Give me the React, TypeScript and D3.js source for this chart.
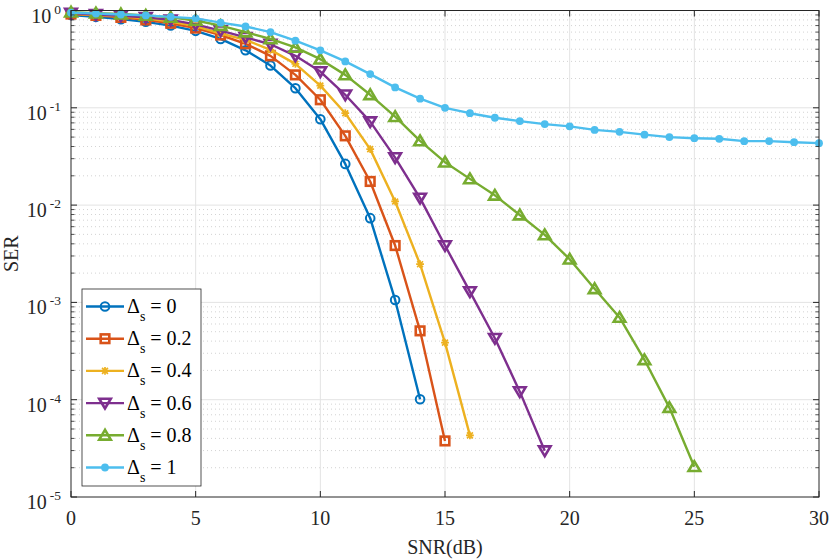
import * as d3 from "d3";
import React, { useEffect, useRef } from "react";

// SNR points, dB
const snr = d3.range(0, 31);

const ser0 = [0.9, 0.86, 0.815, 0.765, 0.7, 0.618, 0.51, 0.39, 0.272, 0.159, 0.0764, 0.0265, 0.00734, 0.00106, 1.01e-4];
const ser02 = [0.92, 0.89, 0.85, 0.8, 0.74, 0.66, 0.56, 0.455, 0.342, 0.218, 0.121, 0.0515, 0.0175, 0.00384, 5.1e-4, 3.77e-5];
const ser04 = [0.93, 0.9, 0.87, 0.83, 0.77, 0.69, 0.58, 0.5, 0.394, 0.283, 0.169, 0.088, 0.0376, 0.0109, 0.00247, 3.86e-4, 4.3e-5];
const ser06 = [0.94, 0.91, 0.88, 0.85, 0.8, 0.72, 0.62, 0.53, 0.45, 0.342, 0.236, 0.136, 0.072, 0.0308, 0.0118, 0.00384, 0.00129, 4.28e-4, 1.21e-4, 2.99e-5];
const ser08 = [0.96, 0.94, 0.92, 0.89, 0.85, 0.79, 0.7, 0.6, 0.51, 0.417, 0.316, 0.218, 0.136, 0.081, 0.0457, 0.0276, 0.0186, 0.0126, 0.0079, 0.00494, 0.00278, 0.00138, 7.0e-4, 2.57e-4, 8.3e-5, 2.05e-5];
const ser1 = [0.95, 0.93, 0.91, 0.89, 0.86, 0.83, 0.75, 0.685, 0.6, 0.49, 0.39, 0.3, 0.222, 0.162, 0.124, 0.1, 0.088, 0.079, 0.073, 0.068, 0.0645, 0.0593, 0.0566, 0.053, 0.05, 0.0487, 0.048, 0.0454, 0.0455, 0.0443, 0.0433];

const legendLabels = ["0", "0.2", "0.4", "0.6", "0.8", "1"];
const colours = ["#0072BD", "#D95319", "#EDB120", "#7E2F8E", "#77AC30", "#4DBEEE"];
const markers = ["circle", "square", "star", "down", "up", "dot"];

const xTicks = [0, 5, 10, 15, 20, 25, 30];
const yExponents = [0, -1, -2, -3, -4, -5];

const width = 830;
const height = 560;
const font = "'Liberation Serif', 'Times New Roman', serif";

function App() {
    const svgRef: any = useRef<any>(null);

    const marginLeft = 71;
    const marginRight = 11;
    const marginTop = 10.5;
    const marginBottom = 63;

    useEffect(() => {
        draw();
    }, []);

    const drawMarker = (g: any, kind: string, colour: string, cx: number, cy: number) => {
        if (kind === "circle") {
            g.append("circle").attr("cx", cx).attr("cy", cy).attr("r", 4.3)
                .attr("fill", "none").attr("stroke", colour).attr("stroke-width", 2);
        } else if (kind === "square") {
            g.append("rect").attr("x", cx - 4.3).attr("y", cy - 4.3).attr("width", 8.6).attr("height", 8.6)
                .attr("fill", "none").attr("stroke", colour).attr("stroke-width", 2.6);
        } else if (kind === "star") {
            const s = 3.9;
            const p = `M${cx - s},${cy}L${cx + s},${cy}M${cx},${cy - s}L${cx},${cy + s}` +
                `M${cx - s * 0.75},${cy - s * 0.75}L${cx + s * 0.75},${cy + s * 0.75}` +
                `M${cx - s * 0.75},${cy + s * 0.75}L${cx + s * 0.75},${cy - s * 0.75}`;
            g.append("path").attr("d", p).attr("stroke", colour).attr("stroke-width", 1.7).attr("fill", "none");
        } else if (kind === "down" || kind === "up") {
            const w = 5.8, h = 5.4;
            const dir = kind === "down" ? 1 : -1;
            const p = `M${cx},${cy + dir * h}L${cx - w},${cy - dir * h * 0.8}L${cx + w},${cy - dir * h * 0.8}Z`;
            g.append("path").attr("d", p).attr("fill", "none").attr("stroke", colour)
                .attr("stroke-width", 2.6).attr("stroke-linejoin", "miter");
        } else {
            g.append("circle").attr("cx", cx).attr("cy", cy).attr("r", 3.9).attr("fill", colour);
        }
    };

    const draw = () => {
        const svg = d3.select(svgRef.current);
        svg.selectAll("*").remove();

        const x = d3.scaleLinear().domain([0, 30]).range([marginLeft, width - marginRight]);
        const y = d3.scaleLog().domain([1e-5, 1]).range([height - marginBottom, marginTop]);
        const [x0, x1] = x.range();
        const [y1, y0] = y.range();

        // background grid
        const grid = svg.append("g");
        for (let e = -5; e < 0; e++) {
            for (let m = 2; m <= 9; m++) {
                const yy = y(m * Math.pow(10, e));
                grid.append("line").attr("x1", x0).attr("x2", x1).attr("y1", yy).attr("y2", yy)
                    .attr("stroke", "#c8c8c8").attr("stroke-width", 0.8).attr("stroke-dasharray", "1,3");
            }
        }
        xTicks.slice(1, -1).forEach(t => {
            grid.append("line").attr("x1", x(t)).attr("x2", x(t)).attr("y1", y0).attr("y2", y1)
                .attr("stroke", "#e3e3e3").attr("stroke-width", 1);
        });
        yExponents.slice(1, -1).forEach(e => {
            const yy = y(Math.pow(10, e));
            grid.append("line").attr("x1", x0).attr("x2", x1).attr("y1", yy).attr("y2", yy)
                .attr("stroke", "#e3e3e3").attr("stroke-width", 1);
        });

        // series
        const series = [ser0, ser02, ser04, ser06, ser08, ser1];
        const line = d3.line<number>()
            .x((_, i) => x(snr[i]))
            .y(d => y(d));
        const plot = svg.append("g");
        series.forEach((s, k) => {
            plot.append("path").attr("d", line(s)).attr("fill", "none")
                .attr("stroke", colours[k]).attr("stroke-width", 2.4).attr("stroke-linejoin", "round");
            s.forEach((v, i) => drawMarker(plot, markers[k], colours[k], x(snr[i]), y(v)));
        });

        // axes box and ticks
        const axes = svg.append("g").attr("stroke", "#262626");
        axes.append("rect").attr("x", x0).attr("y", y0).attr("width", x1 - x0).attr("height", y1 - y0)
            .attr("fill", "none").attr("stroke-width", 1);
        xTicks.forEach(t => {
            axes.append("line").attr("x1", x(t)).attr("x2", x(t)).attr("y1", y1).attr("y2", y1 - 6);
            axes.append("line").attr("x1", x(t)).attr("x2", x(t)).attr("y1", y0).attr("y2", y0 + 6);
        });
        for (let e = -5; e <= 0; e++) {
            const yy = y(Math.pow(10, e));
            axes.append("line").attr("x1", x0).attr("x2", x0 + 6).attr("y1", yy).attr("y2", yy);
            axes.append("line").attr("x1", x1).attr("x2", x1 - 6).attr("y1", yy).attr("y2", yy);
            if (e < 0) {
                for (let m = 2; m <= 9; m++) {
                    const ym = y(m * Math.pow(10, e));
                    axes.append("line").attr("x1", x0).attr("x2", x0 + 3.5).attr("y1", ym).attr("y2", ym).attr("stroke-width", 0.8);
                    axes.append("line").attr("x1", x1).attr("x2", x1 - 3.5).attr("y1", ym).attr("y2", ym).attr("stroke-width", 0.8);
                }
            }
        }

        // tick labels
        const labels = svg.append("g").attr("font-family", font).attr("fill", "#262626");
        xTicks.forEach(t => {
            labels.append("text").attr("x", x(t)).attr("y", y1 + 28).attr("text-anchor", "middle")
                .attr("font-size", 20).text(t);
        });
        yExponents.forEach(e => {
            const t = labels.append("text").attr("x", x0 - 10).attr("y", y(Math.pow(10, e)) + 12)
                .attr("text-anchor", "end").attr("font-size", 20);
            t.append("tspan").text("10");
            t.append("tspan").attr("dy", -9).attr("dx", 3).attr("font-size", 13.5).text(String(e));
        });

        labels.append("text").attr("x", (x0 + x1) / 2).attr("y", height - 6).attr("text-anchor", "middle")
            .attr("font-size", 20).text("SNR(dB)");
        labels.append("text").attr("transform", `translate(18, ${(y0 + y1) / 2}) rotate(-90)`)
            .attr("text-anchor", "middle").attr("font-size", 20).text("SER");

        // legend
        const legend = svg.append("g").attr("transform", "translate(82, 289)");
        legend.append("rect").attr("width", 119).attr("height", 197).attr("fill", "white")
            .attr("stroke", "#262626").attr("stroke-width", 0.8);
        legendLabels.forEach((lab, k) => {
            const ly = 17.5 + k * 32.2;
            legend.append("line").attr("x1", 4).attr("x2", 42).attr("y1", ly).attr("y2", ly)
                .attr("stroke", colours[k]).attr("stroke-width", 2.4);
            drawMarker(legend, markers[k], colours[k], 23, ly);
            const t = legend.append("text").attr("x", 45).attr("y", ly + 6.5).attr("font-family", font)
                .attr("font-size", 20).attr("fill", "#000");
            t.append("tspan").text("Δ");
            t.append("tspan").attr("dy", 8).attr("font-size", 14).text("s");
            t.append("tspan").attr("dy", -8).attr("dx", 5).text("= " + lab);
        });
    };

    return (
        <svg
            ref={svgRef}
            width={width}
            height={height}
            style={{ position: "absolute", left: 0, top: 0, background: "white" }}
        />
    );
}

export default App;
